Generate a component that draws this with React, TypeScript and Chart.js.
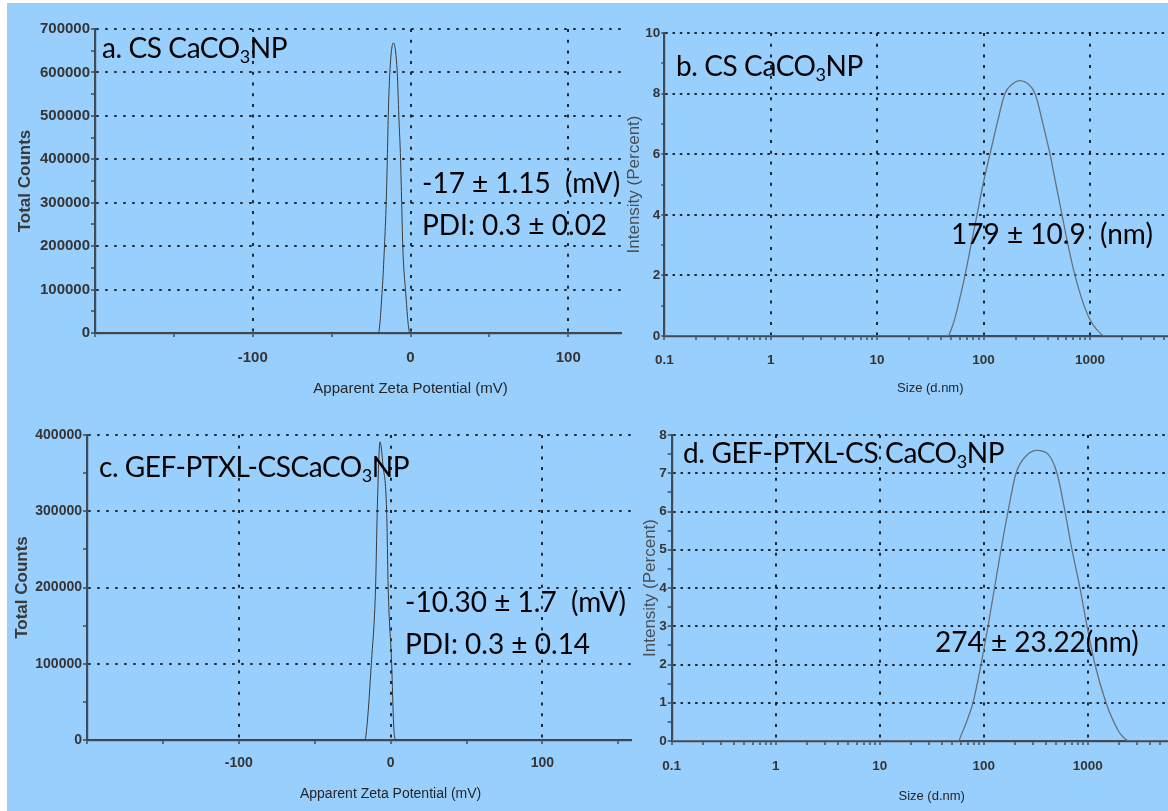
import React, { useEffect, useRef } from 'react';
import { Chart, registerables } from 'chart.js';

Chart.register(...registerables);

// ---------------- Data ----------------
// a. CS CaCO3NP – zeta potential distribution
const zetaA_mV = [-200, -20.4, -17.9, -16.5, -15.4, -14.7, -14.1, -13.1, -10.9, -8.4, -7.4, -6.3, -5.6, -4.9, -3.2, -0.4, 200];
const zetaA_counts = [0, 0, 100000, 200000, 300000, 400000, 500000, 600000, 668000, 600000, 500000, 400000, 300000, 200000, 100000, 0, 0];

// c. GEF-PTXL-CSCaCO3NP – zeta potential distribution
const zetaC_mV = [-200, -17, -15.5, -12.7, -9.9, -8.8, -7, -5, -2.6, -1.6, 0.7, 2, 3.5, 200];
const zetaC_counts = [0, 0, 20000, 100000, 200000, 300000, 391000, 360000, 300000, 200000, 100000, 20000, 0, 0];

// b. CS CaCO3NP – size distribution by intensity
const sizeB_nm = [0.1, 46.4, 49.5, 54, 59.5, 67, 76.3, 86.9, 98.9, 115, 134, 159, 185, 220, 256, 305, 362, 422, 480, 547, 623, 724, 843, 981, 1166, 1387, 10000];
const sizeB_int = [0, 0, 0.2, 0.6, 1.2, 2, 3, 4, 5, 6, 7, 8, 8.3, 8.43, 8.35, 8, 7, 6, 5, 4, 3, 2, 1.2, 0.6, 0.2, 0, 0];

// d. GEF-PTXL-CS CaCO3NP – size distribution by intensity
const sizeD_nm = [0.1, 56.6, 61.8, 70.6, 78.9, 94.2, 110, 127, 146.7, 171.3, 204.5, 255, 325.5, 415, 507, 605, 706, 843, 985, 1175, 1500, 1713, 2045, 2551, 10000];
const sizeD_int = [0, 0, 0.2, 0.6, 1, 2, 3, 4, 5, 6, 7, 7.45, 7.6, 7.5, 7, 6, 5, 4, 3, 2, 1, 0.6, 0.2, 0, 0];

// ---------------- Ticks ----------------
const zetaTicks = [-200, -150, -100, -50, 0, 50, 100, 150, 200];
const zetaTickLabels = [-100, 0, 100];
const zetaGridAt = [-100, 0, 100, 200];

const countTicksA = [0, 50000, 100000, 150000, 200000, 250000, 300000, 350000, 400000, 450000, 500000, 550000, 600000, 650000, 700000];
const countLabelsA = [0, 100000, 200000, 300000, 400000, 500000, 600000, 700000];
const countGridA = [100000, 200000, 300000, 400000, 500000, 600000, 700000];

const countTicksC = [0, 50000, 100000, 150000, 200000, 250000, 300000, 350000, 400000];
const countLabelsC = [0, 100000, 200000, 300000, 400000];
const countGridC = [100000, 200000, 300000, 400000];

const sizeDecades = [0.1, 1, 10, 100, 1000];
const sizeMinorSteps = [1, 2, 3, 4, 5, 6, 7, 8, 9];
const sizeTickLabels = [0.1, 1, 10, 100, 1000];
const sizeGridAt = [1, 10, 100, 1000, 10000];
const sizeTicks = [
  ...sizeDecades.flatMap((d) => sizeMinorSteps.map((m) => +(d * m).toPrecision(6))),
  10000,
];

const intTicksB = [0, 1, 2, 3, 4, 5, 6, 7, 8, 9, 10];
const intLabelsB = [0, 2, 4, 6, 8, 10];
const intGridB = [2, 4, 6, 8, 10];

const intTicksD = [0, 0.5, 1, 1.5, 2, 2.5, 3, 3.5, 4, 4.5, 5, 5.5, 6, 6.5, 7, 7.5, 8];
const intLabelsD = [0, 1, 2, 3, 4, 5, 6, 7, 8];
const intGridD = [1, 2, 3, 4, 5, 6, 7, 8];

// ---------------- Styles ----------------
const PANEL_BG = 'rgb(153, 207, 253)';
const AXIS = '#3f4b56';
const DOT = 'rgba(20, 28, 38, 0.92)';
const TEXT = '#353535';
const AXIS_FONT = "'Liberation Sans', Arial, sans-serif";

const near = (a: number, b: number) => Math.abs(a - b) <= Math.abs(b) * 1e-6 + 1e-9;
const inSet = (v: number, set: number[]) => set.some((s) => near(v, s));

function gridColor(set: number[]) {
  return (ctx: any) => {
    const v = ctx && ctx.tick ? ctx.tick.value : undefined;
    return v !== undefined && inSet(v, set) ? DOT : 'rgba(0,0,0,0)';
  };
}

function labelCb(set: number[]) {
  return (v: any) => (inSet(Number(v), set) ? String(Number(v)) : '');
}

type P = {
  canvasW: number;
  canvasH: number;
  area: { left: number; top: number; right: number; bottom: number };
  xs: number[];
  ys: number[];
  xType: 'linear' | 'logarithmic';
  xMin: number;
  xMax: number;
  xTicks: number[];
  xLabels: number[];
  xGrid: number[];
  xDash: number[];
  yMax: number;
  yTicks: number[];
  yLabels: number[];
  yGrid: number[];
  yDash: number[];
  tickSize: number;
  xTitle: string;
  xTitleSize: number;
  xTitlePad: number;
  xTickPad: number;
  yTitle: string;
  yTitleSize: number;
  yTitleWeight: string;
  yTitleColor: string;
  yTitlePad: number;
  yTickLen: number;
  yTickPad: number;
  lineColor: string;
  lineWidth: number;
};

function makeConfig(p: P): any {
  const font = (size: number, weight = 'normal') => ({ family: AXIS_FONT, size, weight, lineHeight: 1.2 });
  return {
    type: 'line',
    data: {
      datasets: [
        {
          data: p.xs.map((x, i) => ({ x, y: p.ys[i] })),
          borderColor: p.lineColor,
          borderWidth: p.lineWidth,
          pointRadius: 0,
          cubicInterpolationMode: 'monotone',
          fill: false,
        },
      ],
    },
    options: {
      animation: false,
      responsive: false,
      devicePixelRatio: 1,
      events: [],
      layout: { padding: { left: 0, top: p.area.top, right: p.canvasW - p.area.right, bottom: 0 } },
      plugins: { legend: { display: false }, tooltip: { enabled: false }, title: { display: false } },
      scales: {
        x: {
          type: p.xType,
          position: 'bottom',
          min: p.xMin,
          max: p.xMax,
          afterBuildTicks: (s: any) => {
            s.ticks = p.xTicks.map((v) => ({ value: v }));
          },
          afterFit: (s: any) => {
            s.height = p.canvasH - p.area.bottom;
          },
          ticks: {
            autoSkip: false,
            maxRotation: 0,
            minRotation: 0,
            padding: p.xTickPad,
            color: TEXT,
            font: font(p.tickSize, 'bold'),
            callback: labelCb(p.xLabels),
          },
          grid: {
            color: gridColor(p.xGrid),
            lineWidth: 2,
            drawTicks: true,
            tickLength: 4,
            tickColor: AXIS,
            tickWidth: 1.5,
          },
          border: { display: true, color: AXIS, width: 2.2, dash: p.xDash },
          title: {
            display: true,
            text: p.xTitle,
            color: '#262626',
            font: font(p.xTitleSize),
            padding: { top: 0, bottom: p.xTitlePad },
          },
        },
        y: {
          type: 'linear',
          position: 'left',
          min: 0,
          max: p.yMax,
          afterBuildTicks: (s: any) => {
            s.ticks = p.yTicks.map((v) => ({ value: v }));
          },
          afterFit: (s: any) => {
            s.width = p.area.left;
          },
          ticks: {
            autoSkip: false,
            padding: p.yTickPad,
            color: TEXT,
            font: font(p.tickSize, 'bold'),
            callback: labelCb(p.yLabels),
          },
          grid: {
            color: gridColor(p.yGrid),
            lineWidth: 2,
            drawTicks: true,
            tickLength: p.yTickLen,
            tickColor: AXIS,
            tickWidth: 1.5,
          },
          border: { display: true, color: AXIS, width: 2.2, dash: p.yDash },
          title: {
            display: true,
            text: p.yTitle,
            color: p.yTitleColor,
            font: font(p.yTitleSize, p.yTitleWeight),
            padding: { top: p.yTitlePad, bottom: 0 },
          },
        },
      },
    },
  };
}

type Rect = { x: number; y: number; w: number; h: number };

function ChartPanel({ clip, canvas, params }: { clip: Rect; canvas: Rect; params: P }) {
  const ref = useRef<HTMLCanvasElement>(null);
  useEffect(() => {
    if (!ref.current) return;
    const chart = new Chart(ref.current, makeConfig(params));
    return () => chart.destroy();
  }, []);
  return (
    <div style={{ position: 'absolute', left: clip.x, top: clip.y, width: clip.w, height: clip.h, overflow: 'hidden' }}>
      <canvas
        ref={ref}
        width={canvas.w}
        height={canvas.h}
        style={{ position: 'absolute', left: canvas.x - clip.x, top: canvas.y - clip.y, width: canvas.w, height: canvas.h }}
      />
    </div>
  );
}

function Note({ x, baseline, spacing = 0, children }: { x: number; baseline: number; spacing?: number; children: any }) {
  return (
    <div
      style={{
        position: 'absolute',
        left: x,
        top: baseline - 24.8,
        fontFamily: 'Lato, sans-serif',
        fontSize: 28,
        lineHeight: '28px',
        letterSpacing: spacing,
        whiteSpace: 'pre',
        color: '#000',
      }}
    >
      {children}
    </div>
  );
}

function Sub({ children }: { children: any }) {
  return <span style={{ fontSize: 18, position: 'relative', top: 5 }}>{children}</span>;
}

const panelA: P = {
  canvasW: 760,
  canvasH: 402,
  area: { left: 88, top: 26, right: 719, bottom: 330 },
  xs: zetaA_mV,
  ys: zetaA_counts,
  xType: 'linear',
  xMin: -200,
  xMax: 200,
  xTicks: zetaTicks,
  xLabels: zetaTickLabels,
  xGrid: zetaGridAt,
  xDash: [3, 7.7],
  yMax: 700000,
  yTicks: countTicksA,
  yLabels: countLabelsA,
  yGrid: countGridA,
  yDash: [2.5, 6.5],
  tickSize: 15,
  xTitle: 'Apparent Zeta Potential (mV)',
  xTitleSize: 15,
  xTitlePad: 7,
  xTickPad: 12,
  yTitle: 'Total Counts',
  yTitleSize: 17,
  yTitleWeight: 'bold',
  yTitleColor: '#3a3a3a',
  yTitlePad: 7.8,
  yTickLen: 4,
  yTickPad: 1,
  lineColor: '#3a3a3a',
  lineWidth: 1,
};

const panelB: P = {
  canvasW: 620,
  canvasH: 402,
  area: { left: 42.3, top: 30, right: 574.3, bottom: 333 },
  xs: sizeB_nm,
  ys: sizeB_int,
  xType: 'logarithmic',
  xMin: 0.1,
  xMax: 10000,
  xTicks: sizeTicks,
  xLabels: sizeTickLabels,
  xGrid: sizeGridAt,
  xDash: [3, 7.7],
  yMax: 10,
  yTicks: intTicksB,
  yLabels: intLabelsB,
  yGrid: intGridB,
  yDash: [2.5, 4.8],
  tickSize: 13.5,
  xTitle: 'Size (d.nm)',
  xTitleSize: 13,
  xTitlePad: 9.2,
  xTickPad: 12,
  yTitle: 'Intensity (Percent)',
  yTitleSize: 17,
  yTitleWeight: 'normal',
  yTitleColor: '#4a4f55',
  yTitlePad: 1.8,
  yTickLen: 3,
  yTickPad: 1,
  lineColor: '#66717c',
  lineWidth: 1.3,
};

const panelC: P = {
  canvasW: 720,
  canvasH: 406,
  area: { left: 80, top: 30, right: 687.2, bottom: 335 },
  xs: zetaC_mV,
  ys: zetaC_counts,
  xType: 'linear',
  xMin: -200,
  xMax: 200,
  xTicks: zetaTicks,
  xLabels: zetaTickLabels,
  xGrid: zetaGridAt,
  xDash: [3, 7.7],
  yMax: 400000,
  yTicks: countTicksC,
  yLabels: countLabelsC,
  yGrid: countGridC,
  yDash: [2.5, 6.5],
  tickSize: 14,
  xTitle: 'Apparent Zeta Potential (mV)',
  xTitleSize: 14,
  xTitlePad: 8.6,
  xTickPad: 10.6,
  yTitle: 'Total Counts',
  yTitleSize: 17,
  yTitleWeight: 'bold',
  yTitleColor: '#3a3a3a',
  yTitlePad: 5.3,
  yTickLen: 4,
  yTickPad: 1,
  lineColor: '#3a3a3a',
  lineWidth: 1,
};

const panelD: P = {
  canvasW: 600,
  canvasH: 406,
  area: { left: 39.7, top: 30, right: 559.7, bottom: 336 },
  xs: sizeD_nm,
  ys: sizeD_int,
  xType: 'logarithmic',
  xMin: 0.1,
  xMax: 10000,
  xTicks: sizeTicks,
  xLabels: sizeTickLabels,
  xGrid: sizeGridAt,
  xDash: [3, 7.7],
  yMax: 8,
  yTicks: intTicksD,
  yLabels: intLabelsD,
  yGrid: intGridD,
  yDash: [2.5, 4.8],
  tickSize: 13.5,
  xTitle: 'Size (d.nm)',
  xTitleSize: 13,
  xTitlePad: 7.2,
  xTickPad: 13,
  yTitle: 'Intensity (Percent)',
  yTitleSize: 17,
  yTitleWeight: 'normal',
  yTitleColor: '#4a4f55',
  yTitlePad: 7.8,
  yTickLen: 4,
  yTickPad: 1,
  lineColor: '#66717c',
  lineWidth: 1.3,
};

export default function App() {
  return (
    <div style={{ position: 'absolute', left: 0, top: 0, width: 1168, height: 811, background: '#ffffff', overflow: 'hidden' }}>
      <div style={{ position: 'absolute', left: 7, top: 3, right: 0, bottom: 0, background: PANEL_BG }} />
      <ChartPanel clip={{ x: 7, y: 3, w: 615, h: 402 }} canvas={{ x: 7, y: 3, w: 760, h: 402 }} params={panelA} />
      <ChartPanel clip={{ x: 622, y: 3, w: 546, h: 402 }} canvas={{ x: 622, y: 3, w: 620, h: 402 }} params={panelB} />
      <ChartPanel clip={{ x: 7, y: 405, w: 625, h: 406 }} canvas={{ x: 7, y: 405, w: 720, h: 406 }} params={panelC} />
      <ChartPanel clip={{ x: 632, y: 405, w: 536, h: 406 }} canvas={{ x: 632, y: 405, w: 600, h: 406 }} params={panelD} />

      <Note x={102} baseline={58} spacing={-0.4}>
        a. CS CaCO<Sub>3</Sub>NP
      </Note>
      <Note x={422} baseline={193}>-17 ± 1.15  (mV)</Note>
      <Note x={422} baseline={235}>PDI: 0.3 ± 0.02</Note>

      <Note x={676} baseline={76} spacing={-0.4}>
        b. CS CaCO<Sub>3</Sub>NP
      </Note>
      <Note x={951} baseline={244}>179 ± 10.9  (nm)</Note>

      <Note x={99} baseline={477} spacing={-0.45}>
        c. GEF-PTXL-CSCaCO<Sub>3</Sub>NP
      </Note>
      <Note x={405} baseline={612}>-10.30 ± 1.7  (mV)</Note>
      <Note x={405} baseline={654}>PDI: 0.3 ± 0.14</Note>

      <Note x={683} baseline={463} spacing={-0.35}>
        d. GEF-PTXL-CS CaCO<Sub>3</Sub>NP
      </Note>
      <Note x={935} baseline={652}>274 ± 23.22(nm)</Note>
    </div>
  );
}
